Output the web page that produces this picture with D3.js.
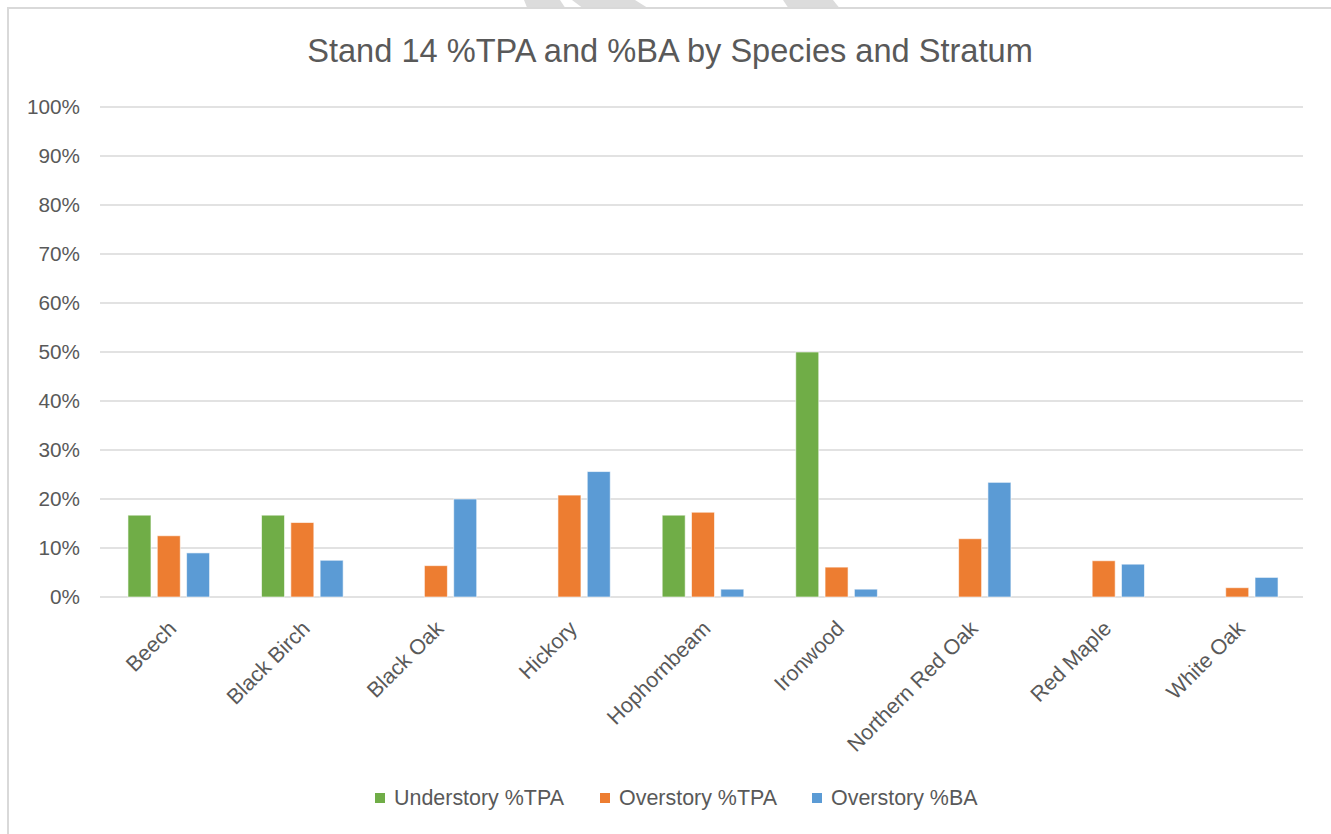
<!DOCTYPE html>
<html>
<head>
<meta charset="utf-8">
<script src="https://cdn.jsdelivr.net/npm/d3@7"></script>
<style>
  html, body { margin: 0; padding: 0; background: #fff; }
  svg { display: block; }
  text { font-family: "Liberation Sans", "DejaVu Sans", sans-serif; fill: #595959; }
</style>
</head>
<body>
<svg id="chart" width="1331" height="834"></svg>
<script>
const categories = ["Beech", "Black Birch", "Black Oak", "Hickory", "Hophornbeam", "Ironwood", "Northern Red Oak", "Red Maple", "White Oak"];
const seriesNames = ["Understory %TPA", "Overstory %TPA", "Overstory %BA"];
const understoryTPA = [0.167, 0.167, 0, 0, 0.167, 0.50, 0, 0, 0];
const overstoryTPA  = [0.125, 0.152, 0.064, 0.208, 0.173, 0.061, 0.119, 0.074, 0.019];
const overstoryBA   = [0.090, 0.075, 0.200, 0.256, 0.016, 0.016, 0.234, 0.067, 0.040];
const yTicks = [0, 0.1, 0.2, 0.3, 0.4, 0.5, 0.6, 0.7, 0.8, 0.9, 1.0];
const colors = ["#70ad47", "#ed7d31", "#5b9bd5"];
const titleText = "Stand 14 %TPA and %BA by Species and Stratum";

const seriesValues = [understoryTPA, overstoryTPA, overstoryBA];

const svg = d3.select("#chart");

function fitSize(text, target, base) {
  const t = svg.append("text").attr("font-size", base).text(text);
  const w = t.node().getComputedTextLength();
  t.remove();
  return base * target / w;
}

// watermark shapes at top
const wm = [
  [[524,0],[560,0],[565,7.5],[527,7.5]],
  [[572,0],[635,0],[647,7.5],[582,7.5]],
  [[783,0],[833,0],[839,7.5],[788,7.5]]
];
svg.selectAll("polygon.wm").data(wm).join("polygon")
  .attr("points", d => d.map(p => p.join(",")).join(" "))
  .attr("fill", "#dcdcdc");

// chart frame
svg.append("line").attr("x1", 7).attr("x2", 1331).attr("y1", 8).attr("y2", 8)
  .attr("stroke", "#d9d9d9").attr("stroke-width", 2);
svg.append("line").attr("x1", 8).attr("x2", 8).attr("y1", 7).attr("y2", 834)
  .attr("stroke", "#d9d9d9").attr("stroke-width", 2);

const plotLeft = 100, plotRight = 1302, plotTop = 107, plotBottom = 597;

const x0 = d3.scaleBand().domain(categories).range([plotLeft, plotRight]).paddingInner(0).paddingOuter(0);
const x1 = d3.scaleBand().domain(seriesNames).range([2, x0.bandwidth() + 2]).paddingInner(0.215).paddingOuter(0.886);
const y = d3.scaleLinear().domain([0, 1]).range([plotBottom, plotTop]);

// gridlines
svg.append("g").selectAll("line").data(yTicks).join("line")
  .attr("x1", plotLeft).attr("x2", plotRight + 1)
  .attr("y1", d => y(d)).attr("y2", d => y(d))
  .attr("stroke", "#d9d9d9").attr("stroke-width", 1.3);

// y axis labels
const tickSize = fitSize("100%", 53, 20);
const yAxis = d3.axisLeft(y).tickValues(yTicks).tickFormat(d3.format(".0%")).tickSize(0).tickPadding(0);
const gy = svg.append("g").attr("transform", "translate(80,0)").call(yAxis);
gy.select(".domain").remove();
gy.selectAll("text").attr("font-size", tickSize).attr("fill", "#595959")
  .attr("font-family", "'Liberation Sans', sans-serif");

// bars
const groups = svg.append("g").selectAll("g").data(categories).join("g")
  .attr("transform", d => `translate(${x0(d)},0)`);
groups.selectAll("rect")
  .data((c, i) => seriesNames.map((s, k) => ({s, k, v: seriesValues[k][i]})).filter(d => d.v > 0))
  .join("rect")
  .attr("x", d => x1(d.s))
  .attr("width", x1.bandwidth())
  .attr("y", d => y(d.v))
  .attr("height", d => y(0) - y(d.v))
  .attr("fill", d => colors[d.k])
  .attr("stroke", "#ffffff").attr("stroke-opacity", 0.6).attr("stroke-width", 1);

// category labels
const legSize = fitSize("Understory %TPA", 170, 20);
const catSize = legSize;
svg.append("g").selectAll("text").data(categories).join("text")
  .attr("transform", d => `translate(${x0(d) + x0.bandwidth() / 2},619) rotate(-45)`)
  .attr("text-anchor", "end")
  .attr("dy", "0.72em")
  .attr("font-size", catSize)
  .text(d => d);

// title
const titleSize = fitSize(titleText, 726, 28);
svg.append("text").attr("x", 670).attr("y", 62).attr("text-anchor", "middle")
  .attr("font-size", titleSize).text(titleText);

// legend
const legendX = [375, 600, 812];
const lg = svg.append("g").selectAll("g").data(seriesNames).join("g")
  .attr("transform", (d, i) => `translate(${legendX[i]},0)`);
lg.append("rect").attr("x", 0).attr("y", 793).attr("width", 10).attr("height", 10)
  .attr("fill", (d, i) => colors[i]);
lg.append("text").attr("x", 19).attr("y", 805).attr("font-size", legSize).text(d => d);
</script>
</body>
</html>
